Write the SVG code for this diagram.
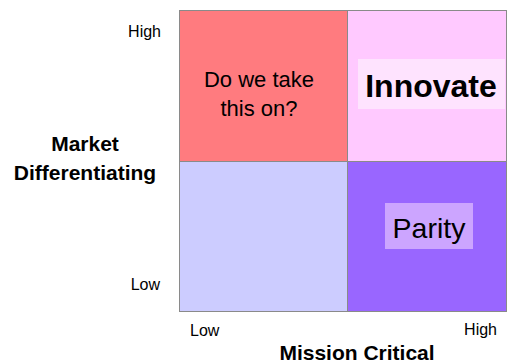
<svg xmlns="http://www.w3.org/2000/svg" width="507" height="364" viewBox="0 0 507 364">
  <style>
    text { font-family: "Liberation Sans", Arial, sans-serif; fill: #000; }
    .cell { stroke: #8a8a8a; stroke-width: 1; }
    .tick { font-size: 16px; }
    .axis { font-size: 21px; font-weight: bold; text-anchor: middle; }
  </style>
  <rect width="507" height="364" fill="#fff"/>

  <!-- quadrant grid -->
  <g id="q-top-left">
    <rect class="cell" x="179.5" y="10.5" width="168" height="151" fill="#ff7b7f"/>
    <text x="259" y="87" font-size="22" text-anchor="middle">Do we take</text>
    <text x="259" y="116" font-size="22" text-anchor="middle">this on?</text>
  </g>
  <g id="q-top-right">
    <rect class="cell" x="347.5" y="10.5" width="159" height="151" fill="#ffc9ff"/>
    <rect x="358" y="59" width="147" height="50" fill="#fee3fe"/>
    <text x="431" y="97" font-size="32" font-weight="bold" text-anchor="middle">Innovate</text>
  </g>
  <g id="q-bottom-left">
    <rect class="cell" x="179.5" y="161.5" width="168" height="150" fill="#ccccff"/>
  </g>
  <g id="q-bottom-right">
    <rect class="cell" x="347.5" y="161.5" width="159" height="150" fill="#9966ff"/>
    <rect x="385" y="203" width="88" height="46" fill="#cca5ff"/>
    <text x="429" y="238" font-size="28.5" text-anchor="middle">Parity</text>
  </g>

  <!-- axis labels -->
  <g id="y-axis">
    <text class="tick" x="161" y="37" text-anchor="end">High</text>
    <text class="tick" x="160" y="290" text-anchor="end">Low</text>
    <text class="axis" x="85" y="151">Market</text>
    <text class="axis" x="85" y="180">Differentiating</text>
  </g>
  <g id="x-axis">
    <text class="tick" x="190" y="336">Low</text>
    <text class="tick" x="497" y="335" text-anchor="end">High</text>
    <text class="axis" x="357" y="360">Mission Critical</text>
  </g>
</svg>
